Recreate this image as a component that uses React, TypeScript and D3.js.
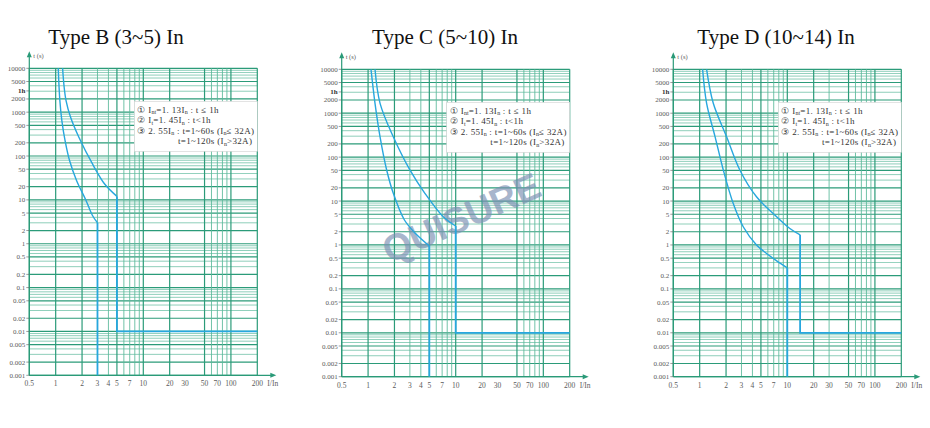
import * as d3 from "d3";

type Pt = [number, number];

// current multiple (I/In) -> trip time (s)
const titles = ["Type B (3~5) In", "Type C (5~10) In", "Type D (10~14) In"];

const thermalB: Pt[] = [[1.07, 10000], [1.116, 1840], [1.176, 644], [1.28, 225], [1.44, 79], [1.73, 27.7], [2.22, 9.7], [2.63, 4.4], [3, 3]];
const overloadB: Pt[] = [[1.2, 10000], [1.244, 4036], [1.313, 1840], [1.48, 765], [1.84, 268], [2.63, 66], [3.62, 23], [5, 12]];
const thermalTailB: Pt[] = [[3, 0.001]];
const overloadTailB: Pt[] = [[5, 0.01], [200, 0.01]];

const thermalC: Pt[] = [[1.08, 10000], [1.2, 1680], [1.37, 290], [1.63, 51], [1.94, 15], [2.6, 3.7], [3.5, 1.8], [5, 0.95]];
const overloadC: Pt[] = [[1.2, 10000], [1.37, 1680], [1.94, 290], [3.0, 51], [4.45, 15], [7.2, 4.4], [10, 2.7]];
const thermalTailC: Pt[] = [[5, 0.001]];
const overloadTailC: Pt[] = [[10, 0.01], [200, 0.01]];

const thermalD: Pt[] = [[1.08, 10000], [1.2, 1680], [1.5, 290], [1.86, 51], [2.41, 8.9], [3.14, 2.6], [4.45, 1], [5.8, 0.64], [7.5, 0.44], [10, 0.3]];
const overloadD: Pt[] = [[1.2, 10000], [1.43, 1680], [2.03, 290], [2.87, 51], [4.45, 12.5], [6.9, 5.2], [10.6, 2.4], [14, 1.7]];
const thermalTailD: Pt[] = [[10, 0.001]];
const overloadTailD: Pt[] = [[14, 0.01], [200, 0.01]];

const xGridValues = [0.5, 1, 2, 3, 4, 5, 6, 7, 8, 9, 10, 20, 50, 60, 70, 80, 90, 100, 200];
const xGridValuesD = [0.5, 1, 2, 3, 4, 5, 6, 7, 8, 9, 10, 20, 30, 50, 60, 70, 80, 90, 100, 200];
const xTickValues = [0.5, 1, 2, 3, 4, 5, 7, 10, 20, 30, 50, 70, 100, 200];
// "1h" sits where the scan prints it, between 5000 and 2000
const yTickValues = [10000, 5000, 3050, 2000, 1000, 500, 200, 100, 50, 20, 10, 5, 2, 1, 0.5, 0.2, 0.1, 0.05, 0.02, 0.01, 0.005, 0.002, 0.001];
const yTickLabels = ["10000", "5000", "1h", "2000", "1000", "500", "200", "100", "50", "20", "10", "5", "2", "1", "0.5", "0.2", "0.1", "0.05", "0.02", "0.01", "0.005", "0.002", "0.001"];

const GRID_DARK = "#2b9b79";
const GRID_MID = "#5ab99a";
const AXIS = "#2a9a78";
const CURVE = "#27a7de";
const LABEL = "#5a5a5a";
const SERIF = "'Liberation Serif', 'Times New Roman', serif";

function isMajor(v: number) {
  const m = Math.round(v / Math.pow(10, Math.floor(Math.log10(v) + 1e-9)));
  return m === 1 || m === 2 || m === 5;
}

interface PanelProps {
  left: number;
  top: number;
  bottom: number;
  titleX: number;
  title: string;
  thermal: Pt[];
  overload: Pt[];
  thermalTail: Pt[];
  overloadTail: Pt[];
  xGrid: number[];
  watermark?: boolean;
}

function Panel({ left, top, bottom, titleX, title, thermal, overload, thermalTail, overloadTail, xGrid, watermark }: PanelProps) {
  const x = d3.scaleLog().domain([0.5, 200]).range([left, left + 228]);
  const y = d3.scaleLog().domain([0.001, 10000]).range([bottom, top]);
  const x0 = x(0.5);
  const x1 = x(200);
  const hGrid = y.ticks();

  const smooth = d3
    .line<Pt>()
    .x((d) => x(d[0]))
    .y((d) => y(d[1]))
    .curve(d3.curveCatmullRom.alpha(0.5));
  const straight = d3
    .line<Pt>()
    .x((d) => x(d[0]))
    .y((d) => y(d[1]));

  const thermalEnd = thermal[thermal.length - 1];
  const overloadEnd = overload[overload.length - 1];
  const boxX = x0 + 105;
  const boxY = top + 33;
  const wmX = (x0 + x1) / 2 + 6;
  const wmY = y(4);
  const sub = { fontSize: 6, letterSpacing: 0 };

  return (
    <g>
      <text x={titleX} y={44} textAnchor="middle" fontFamily={SERIF} fontSize={21} fill="#111">
        {title}
      </text>

      {/* grid */}
      {hGrid.map((v, i) => (
        <line
          key={"h" + i}
          x1={x0}
          x2={x1}
          y1={y(v)}
          y2={y(v)}
          stroke={isMajor(v) ? GRID_DARK : GRID_MID}
          strokeWidth={isMajor(v) ? 1.2 : 0.8}
          opacity={isMajor(v) ? 1 : 0.85}
        />
      ))}
      {xGrid.map((v, i) => (
        <line
          key={"v" + i}
          x1={x(v)}
          x2={x(v)}
          y1={top}
          y2={bottom}
          stroke={isMajor(v) ? GRID_DARK : GRID_MID}
          strokeWidth={isMajor(v) ? 1.2 : 1}
          opacity={isMajor(v) ? 1 : 0.85}
        />
      ))}

      {/* axes */}
      <line x1={x0} x2={x0} y1={bottom} y2={top - 12} stroke={AXIS} strokeWidth={1.2} />
      <path d={`M${x0 - 2.5},${top - 11} L${x0},${top - 17} L${x0 + 2.5},${top - 11} Z`} fill={AXIS} />
      <text x={x0 + 4} y={top - 10} fontFamily={SERIF} fontSize={6.5} fill={LABEL}>
        t (s)
      </text>
      <line x1={x0} x2={x1 + 14} y1={bottom} y2={bottom} stroke={AXIS} strokeWidth={1.2} />
      <path d={`M${x1 + 13},${bottom - 2.5} L${x1 + 19},${bottom} L${x1 + 13},${bottom + 2.5} Z`} fill={AXIS} />
      <text x={x1 + 10} y={bottom + 11} fontFamily={SERIF} fontSize={7.5} fill={LABEL}>
        I/In
      </text>

      {yTickValues.map((v, i) => (
        <g key={"yt" + i}>
          <line x1={x0 - 3} x2={x0} y1={y(v)} y2={y(v)} stroke={LABEL} strokeWidth={0.6} />
          <text
            x={x0 - 4}
            y={y(v) + 2.5}
            textAnchor="end"
            fontFamily={SERIF}
            fontSize={7}
            fontWeight={yTickLabels[i] === "1h" ? "bold" : "normal"}
            fill={yTickLabels[i] === "1h" ? "#333" : LABEL}
          >
            {yTickLabels[i]}
          </text>
        </g>
      ))}
      {xTickValues.map((v, i) => (
        <text key={"xt" + i} x={x(v)} y={bottom + 11} textAnchor="middle" fontFamily={SERIF} fontSize={7.5} fill={LABEL}>
          {v}
        </text>
      ))}

      {/* legend */}
      <rect x={boxX} y={boxY} width={x1 - boxX} height={50} fill="#fff" stroke="#d0d0d0" strokeWidth={0.6} />
      <g fontFamily={SERIF} fontSize={9} fill="#333" letterSpacing={0.35}>
        <text x={boxX + 3} y={boxY + 11.5}>
          ① I<tspan {...sub} dy={1.5}>nt</tspan>
          <tspan dy={-1.5}>=1. 13I</tspan>
          <tspan {...sub} dy={1.5}>n</tspan>
          <tspan dy={-1.5}> : t ≤ 1h</tspan>
        </text>
        <text x={boxX + 3} y={boxY + 22}>
          ② I<tspan {...sub} dy={1.5}>t</tspan>
          <tspan dy={-1.5}>=1. 45I</tspan>
          <tspan {...sub} dy={1.5}>n</tspan>
          <tspan dy={-1.5}> : t&lt;1h</tspan>
        </text>
        <text x={boxX + 3} y={boxY + 32.5}>
          ③ 2. 55I<tspan {...sub} dy={1.5}>n</tspan>
          <tspan dy={-1.5}> : t=1~60s (I</tspan>
          <tspan {...sub} dy={1.5}>n</tspan>
          <tspan dy={-1.5}>≤ 32A)</tspan>
        </text>
        <text x={x1 - 5} y={boxY + 43} textAnchor="end">
          t=1~120s (I<tspan {...sub} dy={1.5}>n</tspan>
          <tspan dy={-1.5}>&gt;32A)</tspan>
        </text>
      </g>

      {watermark && (
        <text
          x={wmX}
          y={wmY + 12}
          textAnchor="middle"
          transform={`rotate(-24 ${wmX} ${wmY})`}
          fontFamily="'Liberation Sans', Arial, sans-serif"
          fontWeight="bold"
          fontSize={37}
          fill="#7a8fb2"
          opacity={0.65}
        >
          QUISURE
        </text>
      )}

      {/* trip curves */}
      <path d={smooth(thermal) ?? ""} fill="none" stroke={CURVE} strokeWidth={1.4} />
      <path d={smooth(overload) ?? ""} fill="none" stroke={CURVE} strokeWidth={1.4} />
      <path d={straight([thermalEnd, ...thermalTail]) ?? ""} fill="none" stroke={CURVE} strokeWidth={1.8} />
      <path d={straight([overloadEnd, ...overloadTail]) ?? ""} fill="none" stroke={CURVE} strokeWidth={1.8} />
    </g>
  );
}

export default function App() {
  return (
    <svg width={930} height={428} style={{ position: "absolute", left: 0, top: 0, background: "#fff" }}>
      <rect width={930} height={428} fill="#fff" />
      <Panel left={29.3} top={68.3} bottom={375.3} titleX={116} title={titles[0]} thermal={thermalB} overload={overloadB} thermalTail={thermalTailB} overloadTail={overloadTailB} xGrid={xGridValues} />
      <Panel left={341.7} top={69.3} bottom={376.7} titleX={445} title={titles[1]} thermal={thermalC} overload={overloadC} thermalTail={thermalTailC} overloadTail={overloadTailC} xGrid={xGridValues} watermark />
      <Panel left={673.3} top={69.3} bottom={376.7} titleX={776} title={titles[2]} thermal={thermalD} overload={overloadD} thermalTail={thermalTailD} overloadTail={overloadTailD} xGrid={xGridValuesD} />
    </svg>
  );
}
